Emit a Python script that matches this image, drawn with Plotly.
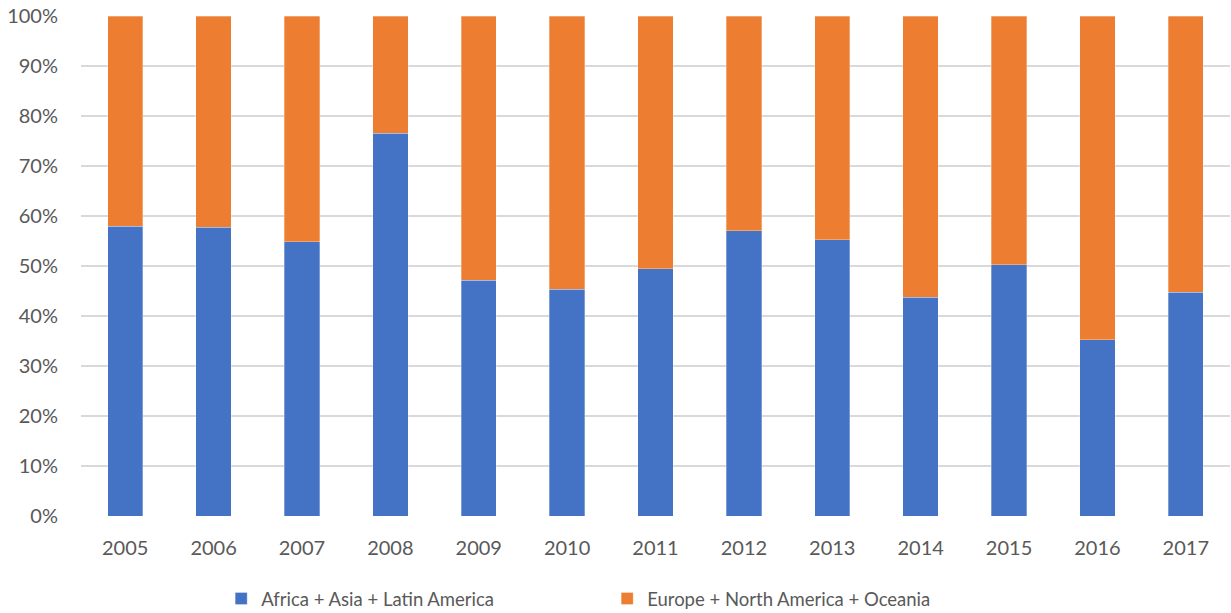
import plotly.graph_objects as go

years = ["2005", "2006", "2007", "2008", "2009", "2010", "2011",
         "2012", "2013", "2014", "2015", "2016", "2017"]
south_share = [58.0, 57.8, 54.9, 76.6, 47.2, 45.4, 49.5,
               57.1, 55.3, 43.8, 50.3, 35.3, 44.8]
north_share = [round(100 - v, 1) for v in south_share]

series_names = ["Africa + Asia + Latin America", "Europe + North America + Oceania"]
series_colors = ["#4472C4", "#ED7D31"]
y_ticks = list(range(0, 101, 10))
y_tick_labels = [f"{t}%" for t in y_ticks]

font_family = "Lato, 'Open Sans', sans-serif"
text_color = "#595959"

fig = go.Figure()
for name, vals, color in zip(series_names, [south_share, north_share], series_colors):
    fig.add_trace(go.Bar(
        x=years, y=vals, name=name,
        marker=dict(color=color, line=dict(color="rgba(255,255,255,0.5)", width=0.6)),
    ))

fig.update_layout(
    barmode="stack",
    bargap=0.6,
    width=1231, height=613,
    margin=dict(l=81, r=1, t=16, b=97, autoexpand=False),
    paper_bgcolor="white", plot_bgcolor="white",
    font=dict(family=font_family, size=18, color=text_color),
    showlegend=True,
    legend=dict(
        orientation="h",
        x=0.122, xanchor="left",
        y=-0.166, yanchor="middle",
        font=dict(size=18.5, color=text_color),
        itemwidth=30,
        entrywidth=341, entrywidthmode="pixels",
        traceorder="normal",
    ),
)
fig.update_xaxes(
    showgrid=False, showline=False, zeroline=False,
    ticks="", ticklabelstandoff=18, tickangle=0,
    tickfont=dict(size=20, color=text_color),
)
fig.update_yaxes(
    range=[0, 100],
    tickvals=y_ticks, ticktext=y_tick_labels,
    showgrid=True, gridcolor="#D9D9D9", gridwidth=1.5,
    zeroline=False, showline=False,
    ticks="", ticklabelstandoff=22,
    tickfont=dict(size=20, color=text_color),
)

fig.write_html("out.html")
